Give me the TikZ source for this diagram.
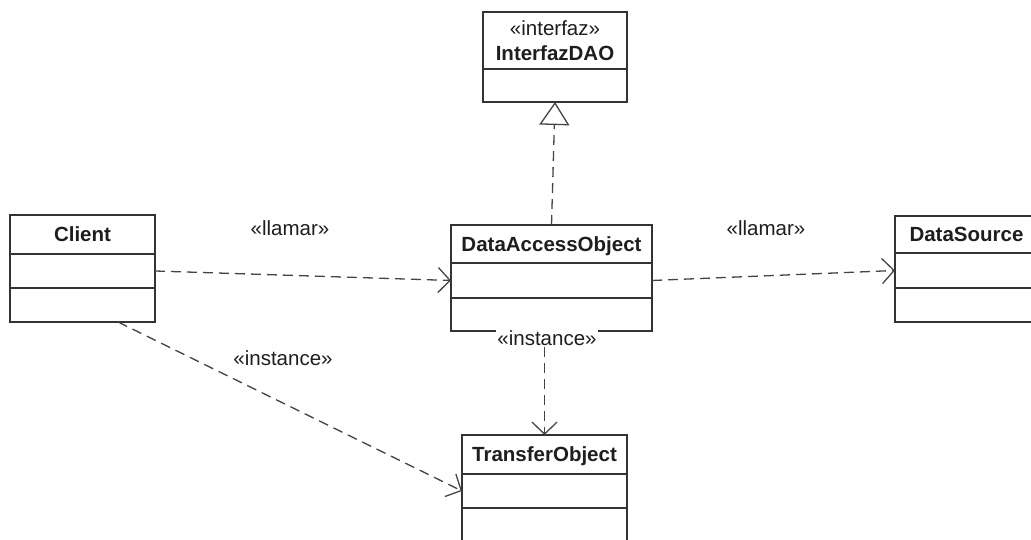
\documentclass[tikz,border=0pt]{standalone}
\usepackage{fontspec}
\setmainfont{Liberation Sans}
\usetikzlibrary{positioning,arrows.meta}

\definecolor{boxgray}{HTML}{333333}
\definecolor{linegray}{HTML}{454545}
\definecolor{textgray}{HTML}{1E1E1E}

\tikzset{
  classbox/.style={draw=boxgray, line width=1.6pt, outer sep=0pt, inner sep=0pt,
    anchor=north west, text=textgray, font=\fontsize{20.5}{25}\selectfont\bfseries},
  classname/.style={classbox, text height=14.7pt, text depth=0pt},
  classpart/.style={draw=boxgray, line width=1.6pt, outer sep=0pt, inner sep=0pt},
  depend/.style={draw=linegray, line width=1.3pt, dash pattern=on 10pt off 6pt,
    -{Straight Barb[length=12pt,width=25pt,line width=1.3pt]}},
  realize/.style={draw=linegray, line width=1.3pt, dash pattern=on 10pt off 6pt,
    -{Triangle[open,length=23pt,width=30pt,line width=1.3pt,fill=white]}},
  stereo/.style={text=textgray, font=\fontsize{20.5}{25}\selectfont}
}

\begin{document}
\begin{tikzpicture}[x=1pt,y=1pt]
\useasboundingbox[fill=white] (0,0) rectangle (1031,540);

% Client
\node[classname, minimum width=145pt, minimum height=39pt] (client) at (10,325) {Client};
\node[classpart, minimum width=145pt, minimum height=34pt, below=0pt of client] (client1) {};
\node[classpart, minimum width=145pt, minimum height=34pt, below=0pt of client1] (client2) {};

% DataAccessObject
\node[classname, minimum width=201pt, minimum height=38pt] (dao) at (451,315) {DataAccessObject};
\node[classpart, minimum width=201pt, minimum height=35pt, below=0pt of dao] (dao1) {};
\node[classpart, minimum width=201pt, minimum height=33pt, below=0pt of dao1] (dao2) {};

% DataSource
\node[classname, minimum width=143pt, minimum height=37pt] (source) at (895,324) {DataSource};
\node[classpart, minimum width=143pt, minimum height=35pt, below=0pt of source] (source1) {};
\node[classpart, minimum width=143pt, minimum height=34pt, below=0pt of source1] (source2) {};

% TransferObject
\node[classname, minimum width=165pt, minimum height=39pt] (transfer) at (462,105) {TransferObject};
\node[classpart, minimum width=165pt, minimum height=34pt, below=0pt of transfer] (transfer1) {};
\node[classpart, minimum width=165pt, minimum height=36pt, below=0pt of transfer1] (transfer2) {};

% InterfazDAO
\node[classbox, minimum width=144pt, minimum height=57pt, align=center]
  (interfaz) at (483,528) {\mdseries«interfaz»\\InterfazDAO};
\node[classpart, minimum width=144pt, minimum height=33pt, below=0pt of interfaz] (interfaz1) {};

% stereotypes
\node[stereo, fill=white, inner sep=1pt] (daoinst) at (547,202) {«instance»};
\node[stereo] (call1) at (290,312) {«llamar»};
\node[stereo] (call2) at (766,312) {«llamar»};
\node[stereo] (inst1) at (283,182) {«instance»};

% connectors
\draw[depend] (client1.east) -- (dao1.west);
\draw[depend] (dao1.east) -- (source1.west);
\draw[depend] ([xshift=-37pt]client2.south east) -- (transfer1.west);
\draw[depend] (transfer.north |- daoinst.south) -- (transfer.north);
\draw[realize] (dao.north) -- (interfaz1.south);
\end{tikzpicture}
\end{document}
